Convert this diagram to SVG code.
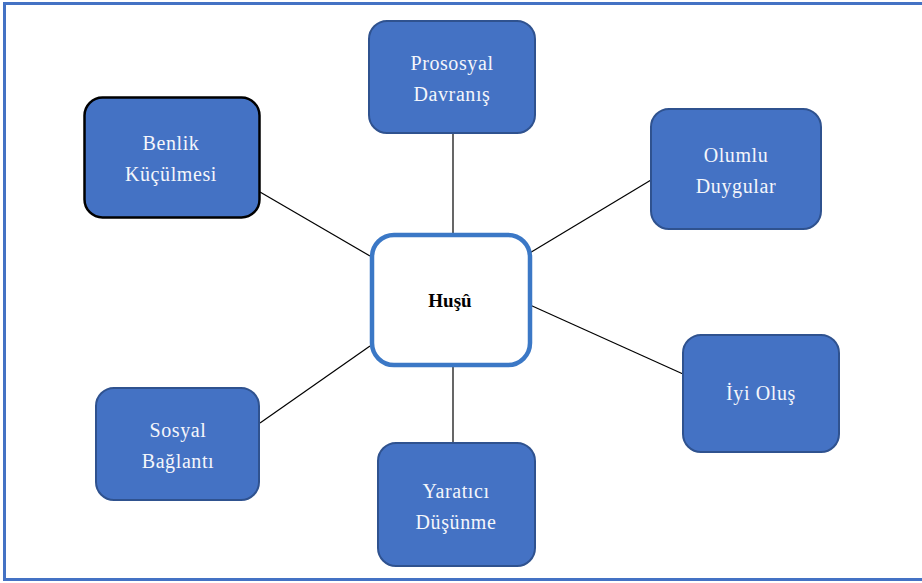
<svg xmlns="http://www.w3.org/2000/svg" width="922" height="583" viewBox="0 0 922 583">
<style>
.n{fill:#4472C4;stroke:#2F528F;stroke-width:2}
.t{font-family:"Liberation Serif","DejaVu Serif",serif;font-size:20px;letter-spacing:0.6px;fill:#F4F6FB;text-anchor:middle}
.c{stroke:#000;stroke-width:1.2;fill:none}
</style>
<rect x="4.5" y="3.5" width="930" height="576" fill="#fff" stroke="#4472C4" stroke-width="3"/>
<g id="connectors">
<line class="c" x1="453" y1="134" x2="453" y2="233"/>
<line class="c" x1="528" y1="254" x2="651" y2="180"/>
<line class="c" x1="260" y1="192" x2="370" y2="256"/>
<line class="c" x1="530" y1="305" x2="683" y2="374"/>
<line class="c" x1="260" y1="423" x2="370" y2="346"/>
<line class="c" x1="453" y1="367" x2="453" y2="443"/>
</g>
<g id="prosocial"><rect class="n" x="369" y="21" width="166" height="112" rx="18"/><text class="t" x="452" y="70">Prososyal</text><text class="t" x="452" y="101">Davranış</text></g>
<g id="benlik"><rect class="n" x="84.5" y="97.5" width="175" height="120" rx="18" style="stroke:#000;stroke-width:2.5"/><text class="t" x="171" y="150">Benlik</text><text class="t" x="171" y="181">Küçülmesi</text></g>
<g id="olumlu"><rect class="n" x="651" y="109" width="170" height="120" rx="18"/><text class="t" x="736" y="162">Olumlu</text><text class="t" x="736" y="193">Duygular</text></g>
<g id="iyi"><rect class="n" x="683" y="335" width="156" height="117" rx="18"/><text class="t" x="761" y="400">İyi Oluş</text></g>
<g id="sosyal"><rect class="n" x="96" y="388" width="163" height="112" rx="18"/><text class="t" x="178" y="437">Sosyal</text><text class="t" x="178" y="468">Bağlantı</text></g>
<g id="yaratici"><rect class="n" x="378" y="443" width="157" height="123" rx="18"/><text class="t" x="456" y="498">Yaratıcı</text><text class="t" x="456" y="529">Düşünme</text></g>
<g id="husu"><rect x="372" y="235" width="158" height="130" rx="22" fill="#fff" stroke="#3B78C6" stroke-width="4.5"/><text x="450" y="307" font-family="Liberation Serif,DejaVu Serif,serif" font-size="19" font-weight="bold" fill="#000" text-anchor="middle">Huşû</text></g>
</svg>
